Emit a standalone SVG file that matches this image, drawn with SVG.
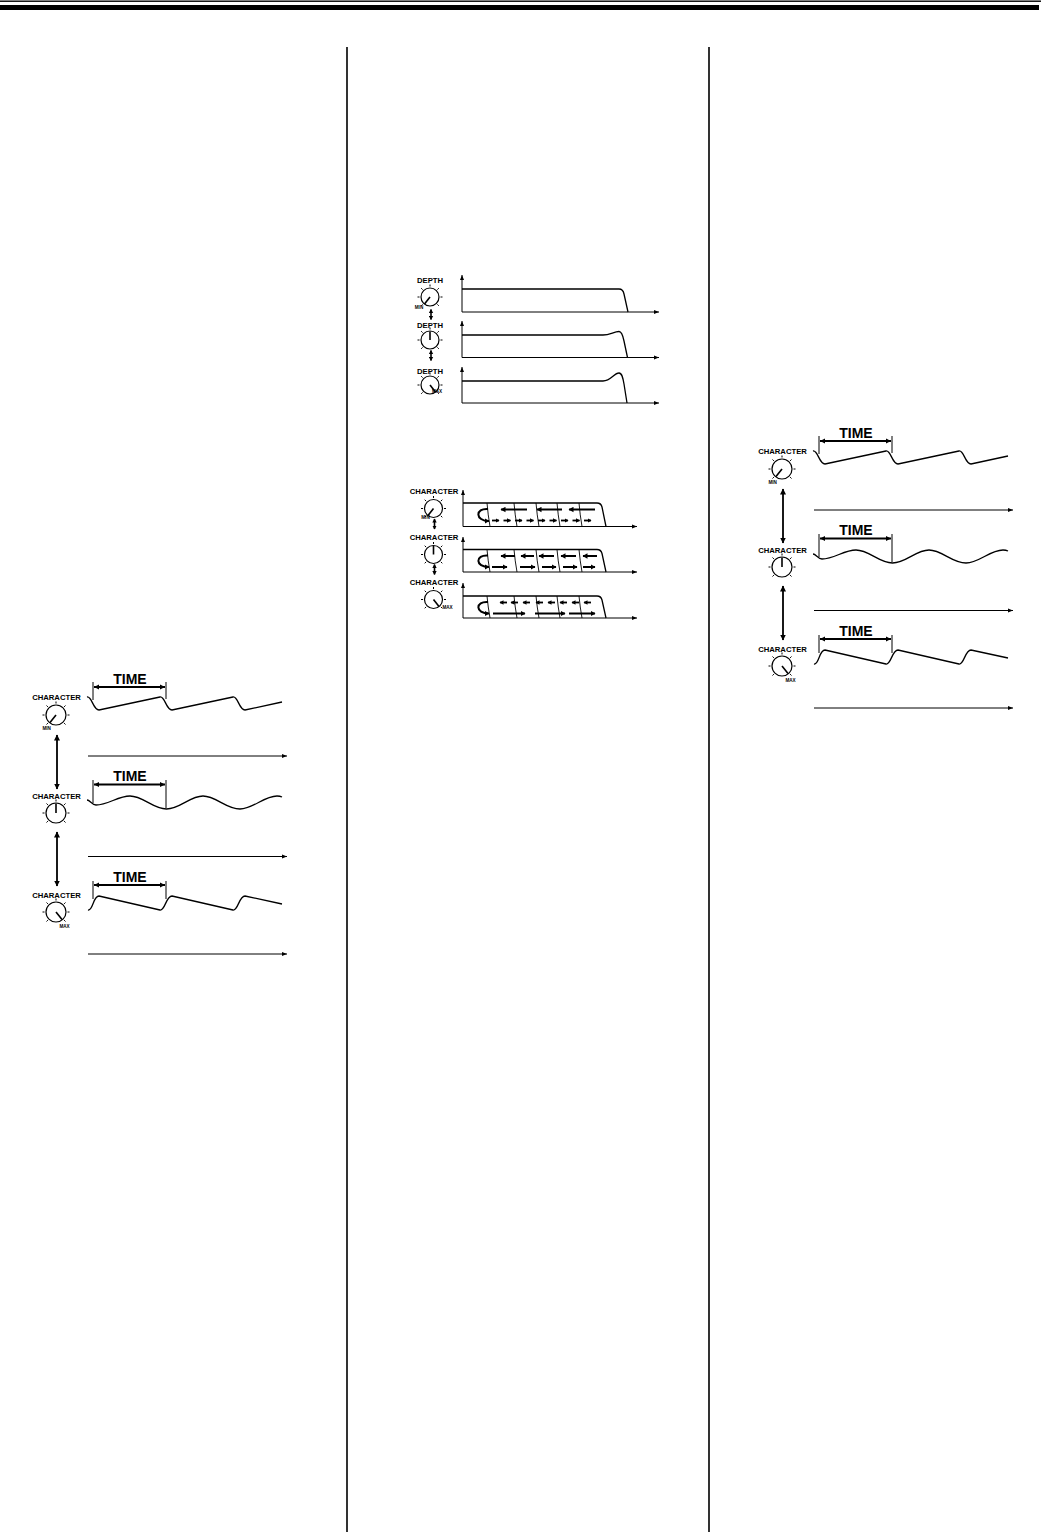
<svg xmlns="http://www.w3.org/2000/svg" width="1055" height="1532" viewBox="0 0 1055 1532">
<style>
.ln{fill:none;stroke:#000;stroke-width:1.2}
.pt{fill:none;stroke:#000;stroke-width:1.6}
.tk{fill:none;stroke:#000;stroke-width:1}
.ax{fill:none;stroke:#000;stroke-width:1;marker-end:url(#ah)}
.wv{fill:none;stroke:#000;stroke-width:1.3}
.br{fill:none;stroke:#000;stroke-width:2;marker-start:url(#bah);marker-end:url(#bah)}
.lbl{font-family:"Liberation Sans",Arial,Helvetica,sans-serif;font-weight:bold;fill:#000;text-anchor:middle}
.t7{font-size:7.7px}
.t14{font-size:14px}
.t4{font-size:4.6px}
.pa{fill:none;stroke:#000;stroke-width:2;marker-end:url(#pah)}
.ps{fill:none;stroke:#000;stroke-width:1.8;marker-end:url(#psh)}
.dv{fill:none;stroke:#000;stroke-width:0.9}
.dbl{fill:none;stroke:#000;stroke-width:1.8;marker-start:url(#dah);marker-end:url(#dah)}
.dbs{fill:none;stroke:#000;stroke-width:1.6;marker-start:url(#dsh);marker-end:url(#dsh)}
.col{fill:none;stroke:#000;stroke-width:1.6}
</style>
<defs>
<marker id="ah" markerUnits="userSpaceOnUse" markerWidth="6" markerHeight="5" refX="5" refY="2.5" orient="auto"><path d="M0,0.5 L5,2.5 L0,4.5 z"/></marker>
<marker id="bah" markerUnits="userSpaceOnUse" markerWidth="6" markerHeight="6" refX="5" refY="3" orient="auto-start-reverse"><path d="M0,0.6 L5,3 L0,5.4 z"/></marker>
<marker id="dah" markerUnits="userSpaceOnUse" markerWidth="8" markerHeight="7" refX="5.5" refY="3.5" orient="auto-start-reverse"><path d="M0,0.5 L6,3.5 L0,6.5 z"/></marker>
<marker id="dsh" markerUnits="userSpaceOnUse" markerWidth="5" markerHeight="5" refX="3.5" refY="2.5" orient="auto-start-reverse"><path d="M0,0.3 L4,2.5 L0,4.7 z"/></marker>
<marker id="pah" markerUnits="userSpaceOnUse" markerWidth="7" markerHeight="6" refX="4.5" refY="3" orient="auto"><path d="M0,0.3 L5,3 L0,5.7 z"/></marker>
<marker id="psh" markerUnits="userSpaceOnUse" markerWidth="5" markerHeight="5" refX="3.5" refY="2.5" orient="auto"><path d="M0,0.2 L4,2.5 L0,4.8 z"/></marker>
<g id="kb10"><circle r="10" class="ln"/><path class="tk" d="M0,-11.5V-13.5 M8.1,-8.1L9.5,-9.5 M11.5,0H13.5 M8.1,8.1L9.5,9.5 M-8.1,-8.1L-9.5,-9.5 M-11.5,0H-13.5 M-8.1,8.1L-9.5,9.5"/></g>
<g id="kb9"><circle r="9" class="ln"/><path class="tk" d="M0,-10.5V-12.5 M7.4,-7.4L8.8,-8.8 M10.5,0H12.5 M7.4,7.4L8.8,8.8 M-7.4,-7.4L-8.8,-8.8 M-10.5,0H-12.5 M-7.4,7.4L-8.8,8.8"/></g>
</defs>
<rect width="1055" height="1532" fill="#fff"/>

<g id="header">
<rect x="0" y="0.5" width="1041" height="1.4" fill="#000"/>
<rect x="0" y="5" width="1039" height="5" fill="#000"/>
</g>

<g id="column-rules">
<path class="col" d="M347,47 V1532 M709,47 V1532"/>
</g>

<!-- Left figure -->
<g id="fig-left">
<g id="fl-knob-min">
<text class="lbl t7" x="56.5" y="699.5">CHARACTER</text>
<use href="#kb10" x="56" y="715"/>
<path class="pt" d="M56,715 l-6,7.5"/>
<text class="lbl t4" x="46.7" y="730">MIN</text>
</g>
<g id="fl-knob-mid">
<text class="lbl t7" x="56.5" y="798.5">CHARACTER</text>
<use href="#kb10" x="56" y="813"/>
<path class="pt" d="M56,813 v-9.5"/>
</g>
<g id="fl-knob-max">
<text class="lbl t7" x="56.5" y="898">CHARACTER</text>
<use href="#kb10" x="56" y="912"/>
<path class="pt" d="M56,912 l6,7.5"/>
<text class="lbl t4" x="64.5" y="928">MAX</text>
</g>
<g id="fl-wave-min">
<text class="lbl t14" x="130" y="683.5">TIME</text>
<path class="br" d="M94,687 H165"/>
<path class="tk" d="M93,682 V700 M166,682 V699"/>
<path class="wv" d="M87,697 C92,696 93,710 99,710 L160,697 C165,696 166,710 172,710 L233,697 C238,696 239,710 245,710 L282,702"/>
<path class="ax" d="M88,756 H287"/>
</g>
<g id="fl-wave-mid">
<text class="lbl t14" x="130" y="781">TIME</text>
<path class="br" d="M94,784.5 H165"/>
<path class="tk" d="M93,780 V803 M166,780 V808"/>
<path class="wv" d="M87,800 C90,800 92,805 96,805 C108,805 118,796 130,796 C143,796 153,809 166.5,809 C180,809 190,796 203,796 C216,796 226,809 240,809 C253,809 264,796 277,796 C279,796 281,796.5 282,797"/>
<path class="ax" d="M88,856.5 H287"/>
</g>
<g id="fl-wave-max">
<text class="lbl t14" x="130" y="881.7">TIME</text>
<path class="br" d="M94,885 H165"/>
<path class="tk" d="M93,881 V899 M166,881 V899"/>
<path class="wv" d="M88,910 C93,911 93,896 99,896 L160,910 C165,911 166,896 172,896 L233,910 C238,911 239,896 245,896 L282,904"/>
<path class="ax" d="M88,954 H287"/>
</g>
</g>

<!-- Right figure -->
<g id="fig-right" transform="translate(726,-246)">
<g id="fr-knob-min">
<text class="lbl t7" x="56.5" y="699.5">CHARACTER</text>
<use href="#kb10" x="56" y="715"/>
<path class="pt" d="M56,715 l-6,7.5"/>
<text class="lbl t4" x="46.7" y="730">MIN</text>
</g>
<g id="fr-knob-mid">
<text class="lbl t7" x="56.5" y="798.5">CHARACTER</text>
<use href="#kb10" x="56" y="813"/>
<path class="pt" d="M56,813 v-9.5"/>
</g>
<g id="fr-knob-max">
<text class="lbl t7" x="56.5" y="898">CHARACTER</text>
<use href="#kb10" x="56" y="912"/>
<path class="pt" d="M56,912 l6,7.5"/>
<text class="lbl t4" x="64.5" y="928">MAX</text>
</g>
<g id="fr-wave-min">
<text class="lbl t14" x="130" y="683.5">TIME</text>
<path class="br" d="M94,687 H165"/>
<path class="tk" d="M93,682 V700 M166,682 V699"/>
<path class="wv" d="M87,697 C92,696 93,710 99,710 L160,697 C165,696 166,710 172,710 L233,697 C238,696 239,710 245,710 L282,702"/>
<path class="ax" d="M88,756 H287"/>
</g>
<g id="fr-wave-mid">
<text class="lbl t14" x="130" y="781">TIME</text>
<path class="br" d="M94,784.5 H165"/>
<path class="tk" d="M93,780 V803 M166,780 V808"/>
<path class="wv" d="M87,800 C90,800 92,805 96,805 C108,805 118,796 130,796 C143,796 153,809 166.5,809 C180,809 190,796 203,796 C216,796 226,809 240,809 C253,809 264,796 277,796 C279,796 281,796.5 282,797"/>
<path class="ax" d="M88,856.5 H287"/>
</g>
<g id="fr-wave-max">
<text class="lbl t14" x="130" y="881.7">TIME</text>
<path class="br" d="M94,885 H165"/>
<path class="tk" d="M93,881 V899 M166,881 V899"/>
<path class="wv" d="M88,910 C93,911 93,896 99,896 L160,910 C165,911 166,896 172,896 L233,910 C238,911 239,896 245,896 L282,904"/>
<path class="ax" d="M88,954 H287"/>
</g>
</g>

<!-- Middle DEPTH figure -->
<g id="fig-depth">
<g id="dp-knob-min">
<text class="lbl t7" x="430" y="282.5">DEPTH</text>
<use href="#kb9" x="430" y="297"/>
<path class="pt" d="M430,297 l-5.5,7"/>
<text class="lbl t4" x="419" y="309">MIN</text>
</g>
<g id="dp-knob-mid">
<text class="lbl t7" x="430" y="327.5">DEPTH</text>
<use href="#kb9" x="430" y="340"/>
<path class="pt" d="M430,340 v-8.5"/>
</g>
<g id="dp-knob-max">
<text class="lbl t7" x="430" y="373.5">DEPTH</text>
<use href="#kb9" x="430" y="385"/>
<path class="pt" d="M430,385 l5.5,7"/>
<text class="lbl t4" x="437" y="393">MAX</text>
</g>
<g id="dp-graph-1">
<path class="ax" d="M462,312 V275"/>
<path class="ax" d="M462,312 H659"/>
<path class="wv" d="M462,289 H619 Q623,289 624,294 L628,312"/>
</g>
<g id="dp-graph-2">
<path class="ax" d="M462,357.5 V321"/>
<path class="ax" d="M462,357.5 H659"/>
<path class="wv" d="M462,335 H603 C610,335 614,331.5 619,331.5 C622,331.5 623,336 624,341 L627.5,357.5"/>
</g>
<g id="dp-graph-3">
<path class="ax" d="M462,403 V367"/>
<path class="ax" d="M462,403 H659"/>
<path class="wv" d="M462,381 H603 C611,381 614,373 619,373 C622,373 623,378 624,384 L627,403"/>
</g>
</g>

<!-- Middle CHARACTER figure -->
<g id="fig-char">
<g id="ch-knob-min">
<text class="lbl t7" x="434" y="494">CHARACTER</text>
<use href="#kb9" x="433.5" y="508.5"/>
<path class="pt" d="M433.5,508.5 l-5.5,7"/>
<text class="lbl t4" x="425.5" y="519">MIN</text>
</g>
<g id="ch-knob-mid">
<text class="lbl t7" x="434" y="539.5">CHARACTER</text>
<use href="#kb9" x="433.5" y="554.5"/>
<path class="pt" d="M433.5,554.5 v-8.5"/>
</g>
<g id="ch-knob-max">
<text class="lbl t7" x="434" y="585">CHARACTER</text>
<use href="#kb9" x="433.5" y="599.5"/>
<path class="pt" d="M433.5,599.5 l5.5,7"/>
<text class="lbl t4" x="447.5" y="609">MAX</text>
</g>
<g id="ch-graph-1">
<path class="ax" d="M463,526.5 V490"/>
<path class="ax" d="M463,526.5 H637"/>
<path class="wv" d="M463,503 H597 Q601,503 602,507 L606,526.5"/>
<path class="dv" d="M487,503 Q488,515 490,526.5 M514,503 Q515,515 517,526.5 M536,503 Q537,515 539,526.5 M557,503 Q558,515 560,526.5 M579,503 Q580,515 582,526.5"/>
<path class="pa" d="M488,509 C475,508 475,521 489,521"/>
<path class="pa" d="M527,509.5 H501"/><path class="pa" d="M562,509.5 H537"/><path class="pa" d="M595,509.5 H569"/>
<path class="ps" d="M492,520.5 H499"/><path class="ps" d="M503.5,520.5 H510.5"/><path class="ps" d="M515,520.5 H522"/><path class="ps" d="M526.5,520.5 H533.5"/><path class="ps" d="M538,520.5 H545"/><path class="ps" d="M549.5,520.5 H556.5"/><path class="ps" d="M561,520.5 H568"/><path class="ps" d="M572.5,520.5 H579.5"/><path class="ps" d="M584,520.5 H591"/>
</g>
<g id="ch-graph-2">
<path class="ax" d="M463,572 V537"/>
<path class="ax" d="M463,572 H637"/>
<path class="wv" d="M463,549.5 H597 Q601,549.5 602,553.5 L606,572"/>
<path class="dv" d="M487,549.5 Q488,561 490,572 M514,549.5 Q515,561 517,572 M536,549.5 Q537,561 539,572 M557,549.5 Q558,561 560,572 M579,549.5 Q580,561 582,572"/>
<path class="pa" d="M488,555.5 C475,554.5 475,567 489,567"/>
<path class="pa" d="M515,556 H501"/><path class="pa" d="M534,556 H521"/><path class="pa" d="M554,556 H539"/><path class="pa" d="M576,556 H561"/><path class="pa" d="M597,556 H583"/>
<path class="pa" d="M492,567 H507"/><path class="pa" d="M520,567 H535"/><path class="pa" d="M542,567 H556"/><path class="pa" d="M563,567 H577"/><path class="pa" d="M583,567 H595"/>
</g>
<g id="ch-graph-3">
<path class="ax" d="M463,618 V583"/>
<path class="ax" d="M463,618 H637"/>
<path class="wv" d="M463,596 H597 Q601,596 602,600 L606,618"/>
<path class="dv" d="M487,596 Q488,607 490,618 M514,596 Q515,607 517,618 M536,596 Q537,607 539,618 M557,596 Q558,607 560,618 M579,596 Q580,607 582,618"/>
<path class="pa" d="M488,602 C475,601 475,613.5 489,613.5"/>
<path class="ps" d="M507,602.5 H500"/><path class="ps" d="M518,602.5 H511"/><path class="ps" d="M530,602.5 H523"/><path class="ps" d="M543,602.5 H536"/><path class="ps" d="M555,602.5 H548"/><path class="ps" d="M567,602.5 H560"/><path class="ps" d="M579,602.5 H572"/><path class="ps" d="M591,602.5 H584"/>
<path class="pa" d="M493,613.5 H525"/><path class="pa" d="M535,613.5 H565"/><path class="pa" d="M569,613.5 H595"/>
</g>
</g>

<g id="connectors">
<path class="dbl" d="M57,735 V789"/>
<path class="dbl" d="M57,832 V886"/>
<path class="dbl" d="M783,489 V543"/>
<path class="dbl" d="M783,586 V640"/>
<path class="dbs" d="M431,309.5 V319.5"/>
<path class="dbs" d="M431,350.5 V360.5"/>
<path class="dbs" d="M434.5,519 V529"/>
<path class="dbs" d="M434.5,564.5 V574.5"/>
</g>
</svg>
